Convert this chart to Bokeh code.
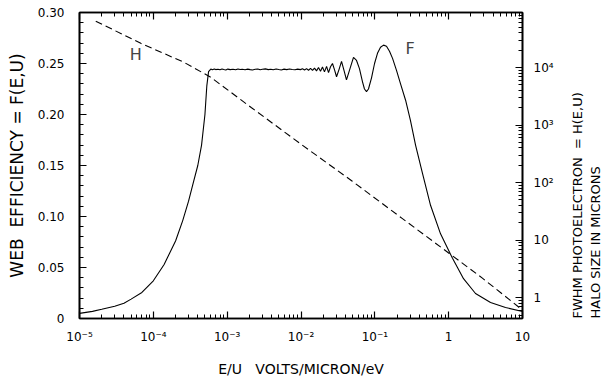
import math
from bokeh.plotting import figure
from bokeh.models import (LogAxis, LinearAxis, Range1d, FixedTicker, CustomJSTickFormatter,
                          Label, LogScale)
from bokeh.embed import file_html
from bokeh.resources import INLINE

# ---------------- data ----------------
# F(E,U): web efficiency (left, linear axis)
F_x = [1.0e-5, 1.5e-5, 2.0e-5, 3.0e-5, 4.0e-5, 5.0e-5, 7.0e-5, 1.0e-4, 1.4e-4, 2.0e-4,
       2.5e-4, 3.0e-4, 3.5e-4, 4.0e-4, 4.5e-4, 5.0e-4, 5.3e-4, 5.6e-4,
       6.0e-4, 6.3e-4, 6.7e-4, 7.0e-4, 7.5e-4, 8.0e-4, 8.5e-4, 9.0e-4, 9.6e-4,
       1.02e-3, 1.1e-3, 1.2e-3, 1.3e-3, 1.4e-3, 1.5e-3, 1.6e-3, 1.75e-3, 1.9e-3,
       2.05e-3, 2.2e-3, 2.4e-3, 2.6e-3, 2.8e-3, 3.0e-3, 3.3e-3, 3.6e-3, 3.9e-3,
       4.2e-3, 4.6e-3, 5.0e-3, 5.4e-3, 5.9e-3, 6.4e-3, 7.0e-3, 7.6e-3, 8.3e-3,
       9.0e-3,
       0.00984, 0.01047, 0.01117, 0.01189, 0.01265, 0.01346, 0.01432, 0.01524,
       0.01622, 0.01726, 0.01837, 0.01954, 0.0208, 0.0222, 0.0236, 0.0251,
       0.0267, 0.0284, 0.0303, 0.0327, 0.0354, 0.0383, 0.0413, 0.0461, 0.0514,
       0.0565, 0.0619, 0.0681, 0.0724, 0.0771, 0.0820, 0.0902, 0.0991, 0.1086,
       0.1194, 0.1313, 0.1439, 0.158, 0.1738, 0.197, 0.223, 0.261, 0.304, 0.356,
       0.443, 0.568, 0.776, 1.127, 1.589, 2.31, 3.69, 5.89, 10.0]
F_y = [0.005, 0.007, 0.009, 0.012, 0.015, 0.019, 0.0255, 0.037, 0.053, 0.076,
       0.096, 0.115, 0.134, 0.150, 0.170, 0.200, 0.228, 0.242,
       0.2445, 0.2438, 0.2446, 0.2440, 0.2444, 0.2439, 0.2446, 0.2441, 0.2437,
       0.2445, 0.2440, 0.2443, 0.2438, 0.2446, 0.2441, 0.2444, 0.2438, 0.2445,
       0.2440, 0.2437, 0.2444, 0.2446, 0.2439, 0.2443, 0.2447, 0.2440, 0.2444,
       0.2438, 0.2446, 0.2441, 0.2437, 0.2445, 0.2440, 0.2446, 0.2441, 0.2438,
       0.2445,
       0.2440, 0.2448, 0.2436, 0.2450, 0.2434, 0.2452, 0.2432, 0.2455,
       0.2428, 0.2460, 0.2424, 0.2465, 0.2418, 0.2472, 0.2410, 0.2468,
       0.2500, 0.2440, 0.2370, 0.2440, 0.2520, 0.2430, 0.2340, 0.2450, 0.2560,
       0.2530, 0.2450, 0.2320, 0.2250, 0.2225, 0.2250, 0.2360, 0.2500, 0.2600,
       0.2660, 0.2680, 0.2670, 0.2620, 0.2550, 0.2430, 0.2300, 0.2140, 0.1940, 0.1700,
       0.1420, 0.1110, 0.0830, 0.0590, 0.0390, 0.0245, 0.0157, 0.0108, 0.0069]

# H(E,U): FWHM photoelectron halo size in microns (right, log axis)
H_x = [1.66e-5, 6.76e-5, 2.6e-4, 6.0e-4, 2.14e-3, 0.0102, 0.049, 0.234, 1.02, 2.86, 9.3]
H_y = [63800, 26300, 12300, 6760, 2000, 457, 107, 24, 5.9, 2.2, 0.66]

x_ticks = [1e-5, 1e-4, 1e-3, 1e-2, 1e-1, 1, 10]
f_ticks = [0, 0.05, 0.10, 0.15, 0.20, 0.25, 0.30]
h_ticks = [1, 10, 100, 1000, 10000]

FONT = "DejaVu Sans"
NB = "\u00a0"

p = figure(width=613, height=382, x_axis_type="log",
           x_range=Range1d(1e-5, 10), y_range=Range1d(0, 0.30),
           output_backend="svg", toolbar_location=None,
           min_border_left=79, min_border_right=91,
           min_border_top=12, min_border_bottom=64)
p.grid.visible = False
p.outline_line_color = "black"
p.outline_line_width = 1.6

p.extra_y_ranges = {"h": Range1d(0.4375, 90200)}
p.extra_y_scales = {"h": LogScale()}

x_minor = [m * 10.0 ** k for k in range(-5, 1) for m in range(2, 10)]
h_minor = [m * 10.0 ** k for k in range(-1, 5) for m in range(2, 10)]
f_minor = [i / 100 for i in range(0, 31)]

sup_js = """
const e = Math.round(Math.log10(tick));
const s = {"-5":"⁻⁵","-4":"⁻⁴","-3":"⁻³","-2":"⁻²","-1":"⁻¹","2":"²","3":"³","4":"⁴","5":"⁵"};
if (e == 0) return "1";
if (e == 1) return "10";
return "10" + s[String(e)];
"""


def style(ax):
    ax.axis_line_color = "black"
    ax.axis_line_width = 1.6
    ax.major_tick_in = 7
    ax.major_tick_out = 0
    ax.minor_tick_in = 4
    ax.minor_tick_out = 0
    ax.major_tick_line_width = 1.2
    ax.minor_tick_line_width = 1
    ax.major_label_text_font = FONT
    ax.major_label_text_font_size = "12px"
    ax.major_label_text_color = "black"
    ax.axis_label_text_font = FONT
    ax.axis_label_text_font_style = "normal"
    ax.axis_label_text_color = "black"


# bottom axis
bx = p.xaxis[0]
bx.ticker = FixedTicker(ticks=x_ticks, minor_ticks=x_minor)
bx.formatter = CustomJSTickFormatter(code=sup_js)
style(bx)
bx.major_label_standoff = 11
bx.axis_label = "E/U" + NB * 3 + "VOLTS/MICRON/eV"
bx.axis_label_text_font_size = "14px"
bx.axis_label_standoff = 14

# left axis
ly = p.yaxis[0]
ly.ticker = FixedTicker(ticks=f_ticks, minor_ticks=f_minor)
ly.formatter = CustomJSTickFormatter(code="return tick == 0 ? '0' : tick.toFixed(2);")
style(ly)
ly.major_label_standoff = 15
ly.axis_label = "WEB" + NB * 2 + "EFFICIENCY = F(E,U)"
ly.axis_label_text_font_size = "17px"
ly.axis_label_standoff = 8

# right axis (log)
ry = LogAxis(y_range_name="h", ticker=FixedTicker(ticks=h_ticks, minor_ticks=h_minor),
             formatter=CustomJSTickFormatter(code=sup_js))
style(ry)
ry.major_label_standoff = 11
ry.axis_label = "FWHM PHOTOELECTRON" + NB * 2 + "= H(E,U)"
ry.axis_label_text_font_size = "13px"
ry.axis_label_standoff = 21
ry.axis_label_orientation = math.pi / 2
p.add_layout(ry, "right")

# second line of the right title
ry2 = LinearAxis(ticker=FixedTicker(ticks=[]))
style(ry2)
ry2.axis_line_color = None
ry2.major_tick_line_color = None
ry2.minor_tick_line_color = None
ry2.major_tick_in = 0
ry2.minor_tick_in = 0
ry2.major_label_text_font_size = "0px"
ry2.major_label_standoff = 0
ry2.axis_label = "HALO SIZE IN MICRONS"
ry2.axis_label_text_font_size = "13px"
ry2.axis_label_standoff = 0
ry2.axis_label_orientation = math.pi / 2
p.add_layout(ry2, "right")

for ax in (ry, ry2):
    if "axis_label_align" in ax.properties():
        ax.axis_label_align = "start"

# top axis: ticks only
tx = LogAxis(ticker=FixedTicker(ticks=x_ticks, minor_ticks=x_minor),
             formatter=CustomJSTickFormatter(code="return '';"))
style(tx)
tx.major_label_text_font_size = "0px"
tx.major_label_standoff = 0
p.add_layout(tx, "above")

# curves
p.line(F_x, F_y, line_color="black", line_width=1.1)
p.line(H_x, H_y, y_range_name="h", line_color="black", line_width=1.1,
       line_dash="7 4")

# curve labels
p.add_layout(Label(x=5.78e-5, y=0.259, text="H", text_font=FONT,
                   text_font_size="16px", text_align="center", text_baseline="middle"))
p.add_layout(Label(x=0.30, y=0.265, text="F", text_font=FONT,
                   text_font_size="16px", text_align="center", text_baseline="middle"))

open("out.html", "w").write(file_html(p, INLINE))
